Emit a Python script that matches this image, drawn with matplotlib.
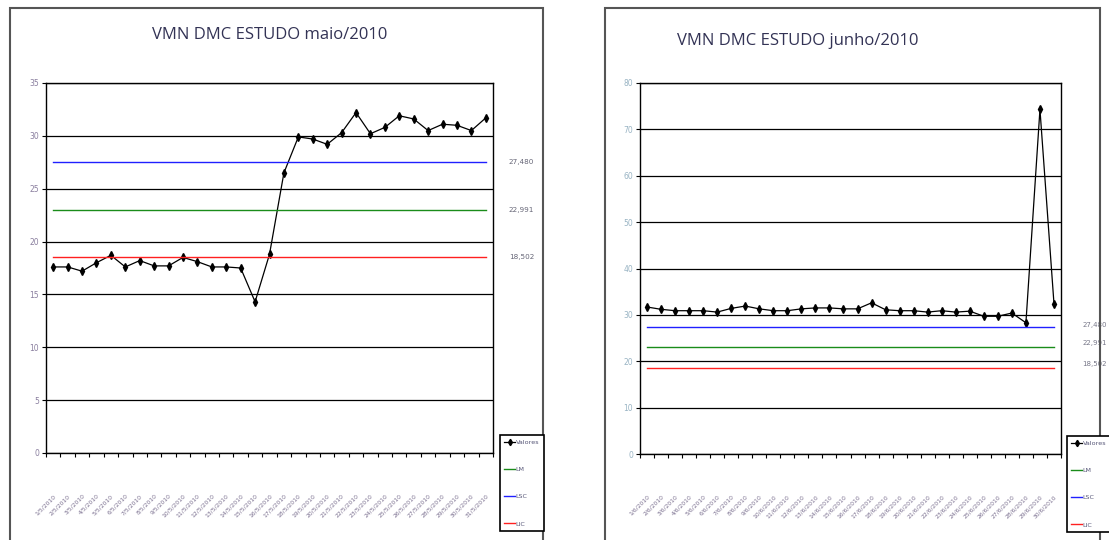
import matplotlib
matplotlib.use("Agg")
import matplotlib.pyplot as plt
from matplotlib.patches import Rectangle
import numpy as np

# data
maio_vals = [17.6, 17.6, 17.2, 18.0, 18.7, 17.6, 18.2, 17.7, 17.7, 18.5,
             18.1, 17.6, 17.6, 17.5, 14.3, 18.8, 26.5, 29.9, 29.7, 29.2,
             30.3, 32.2, 30.2, 30.8, 31.9, 31.6, 30.5, 31.1, 31.0, 30.5, 31.7]
junho_vals = [31.7, 31.2, 30.9, 30.9, 30.9, 30.6, 31.4, 31.9, 31.3, 30.9,
              30.9, 31.3, 31.5, 31.5, 31.3, 31.3, 32.6, 31.1, 30.9, 30.9,
              30.6, 30.9, 30.6, 30.8, 29.7, 29.7, 30.4, 28.3, 74.3, 32.4]
maio_dates = ["%d/5/2010" % d for d in range(1, 32)]
junho_dates = ["%d/6/2010" % d for d in range(1, 31)]

lsc = 27.480
lm = 22.991
lic = 18.502
limit_labels = ["27,480", "22,991", "18,502"]
legend_labels = ["Valores", "LM", "LSC", "LIC"]

W, H = 1109, 540
fig = plt.figure(figsize=(W / 100, H / 100), dpi=100)


def fx(px):
    return px / W


def fy(py):
    return 1 - py / H


def panel(rect, vals, dates, ymax, ystep, tick_color):
    x0, y0, x1, y1 = rect
    ax = fig.add_axes([fx(x0), fy(y1), fx(x1 - x0), (y1 - y0) / H])
    n = len(vals)
    x = np.arange(n)
    ax.set_xlim(-0.5, n - 0.5)
    ax.set_ylim(0, ymax)
    ax.set_yticks(np.arange(0, ymax + 1, ystep))
    ax.yaxis.grid(True, color="black", lw=0.9)
    ax.set_axisbelow(True)
    ax.tick_params(axis="y", length=3, width=0.8, labelsize=5.5,
                   labelcolor=tick_color, pad=2)
    # tick marks between categories, labels under each category
    ax.set_xticks(np.arange(-0.5, n, 1.0))
    ax.set_xticklabels([])
    ax.tick_params(axis="x", which="major", length=3, width=0.8)
    ax.set_xticks(x, minor=True)
    ax.set_xticklabels(dates, minor=True, rotation=45, ha="right", va="top",
                       rotation_mode="anchor", fontsize=4.3, color="#7a6f8f")
    ax.tick_params(axis="x", which="minor", length=0, pad=29)
    for s in ax.spines.values():
        s.set_color("black")
        s.set_linewidth(1.0)
    l1, = ax.plot(x, vals, color="black", lw=0.9, marker="d", ms=3.6,
                  mec="black", mfc="black")
    l2, = ax.plot([0, n - 1], [lm, lm], color="#1a8c1a", lw=1.0)
    l3, = ax.plot([0, n - 1], [lsc, lsc], color="#2020ff", lw=1.0)
    l4, = ax.plot([0, n - 1], [lic, lic], color="#ff2020", lw=1.0)
    return ax, [l1, l2, l3, l4]


def legend(handles, px, py):
    leg = fig.legend(handles, legend_labels,
                     loc="upper left", bbox_to_anchor=(fx(px), fy(py)),
                     fontsize=4.6, handlelength=1.7, handletextpad=0.05,
                     labelspacing=3.4, borderpad=0.7, borderaxespad=0,
                     fancybox=False, framealpha=1, edgecolor="black",
                     markerscale=0.9)
    leg.get_frame().set_linewidth(1.2)
    for t in leg.get_texts():
        t.set_color("#555577")


# left chart
axL, hL = panel((46, 83, 493, 453), maio_vals, maio_dates, 35, 5, "#8a7f9f")
for lab, val in zip(limit_labels, [lsc, lm, lic]):
    axL.text(1.035, val, lab, transform=axL.get_yaxis_transform(),
             fontsize=5.2, color="#667", va="center", ha="left")
legend(hL, 500, 435)
fig.text(fx(270), fy(35), "VMN DMC ESTUDO maio/2010", ha="center",
         va="center", fontsize=12, family="Open Sans", color="#333355")

# right chart
axR, hR = panel((640, 83, 1061, 454), junho_vals, junho_dates, 80, 10,
                "#99b4c4")
for lab, val, off in zip(limit_labels, [lsc, lm, lic], [0.4, 0.9, 0.9]):
    axR.text(1.05, val + off, lab, transform=axR.get_yaxis_transform(),
             fontsize=5.0, color="#778", va="center", ha="left")
legend(hR, 1067, 436)
fig.text(fx(677), fy(41), "VMN DMC ESTUDO junho/2010", ha="left",
         va="center", fontsize=12, family="Open Sans", color="#333355")

# outer frames of the two pasted charts
fig.add_artist(Rectangle((fx(10), -0.02), fx(533), fy(8) + 0.02,
                         transform=fig.transFigure, fill=False,
                         edgecolor="#555555", lw=1.5))
fig.add_artist(Rectangle((fx(605), -0.02), fx(495), fy(8) + 0.02,
                         transform=fig.transFigure, fill=False,
                         edgecolor="#555555", lw=1.5))

fig.savefig("out.png", dpi=100)
